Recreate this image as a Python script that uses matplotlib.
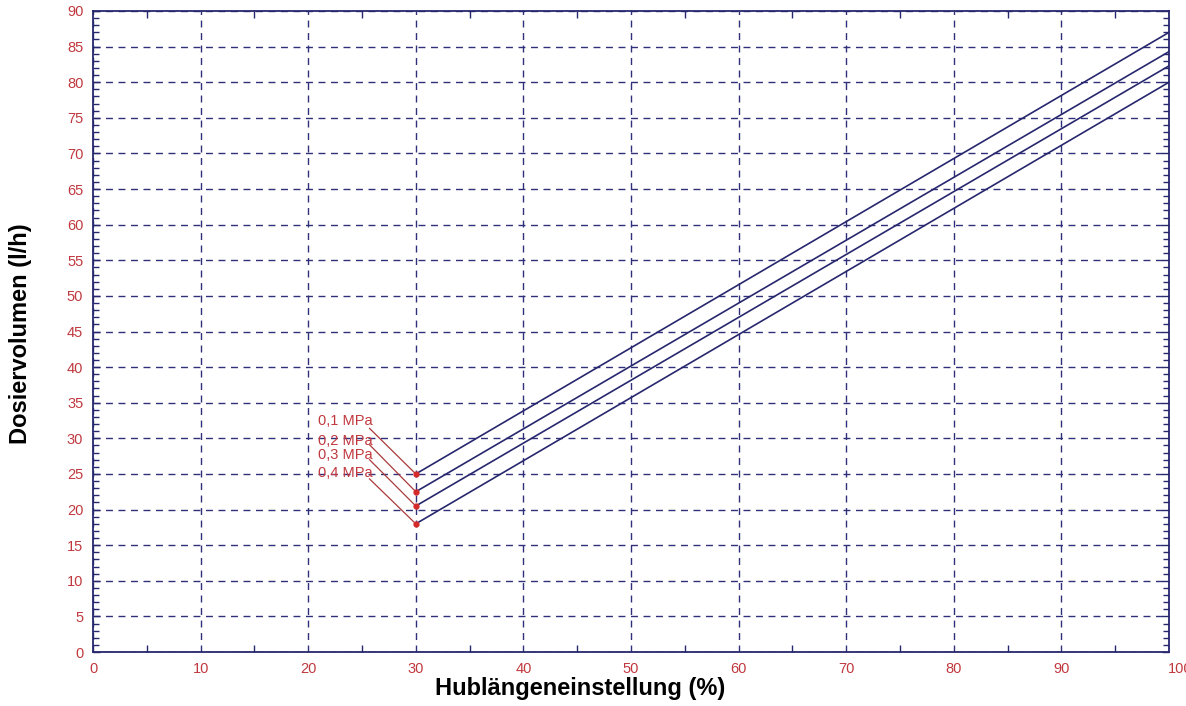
import matplotlib
matplotlib.use("Agg")
import matplotlib.pyplot as plt
from matplotlib.ticker import MultipleLocator, FuncFormatter
from matplotlib.transforms import blended_transform_factory, ScaledTranslation

plt.rcParams['font.family'] = ['Liberation Sans', 'DejaVu Sans']

# Dosing volume vs. stroke length for four back pressures
stroke = [30, 100]
pressures = ["0,1 MPa", "0,2 MPa", "0,3 MPa", "0,4 MPa"]
volume = {
    "0,1 MPa": [25.0, 87.0],
    "0,2 MPa": [22.5, 84.3],
    "0,3 MPa": [20.5, 82.3],
    "0,4 MPa": [18.0, 80.0],
}
label_pos = {
    "0,1 MPa": (20.9, 32.4),
    "0,2 MPa": (20.9, 29.6),
    "0,3 MPa": (20.9, 27.7),
    "0,4 MPa": (20.9, 25.1),
}
leader_start = {
    "0,1 MPa": (25.7, 31.4),
    "0,2 MPa": (25.7, 29.1),
    "0,3 MPa": (25.7, 27.0),
    "0,4 MPa": (25.7, 24.3),
}

navy = '#27276e'
grid_c = '#30307a'
red = '#c0393f'

fig = plt.figure(figsize=(11.86, 7.06), dpi=100)
ax = fig.add_axes([93/1186, 1 - 652/706, (1169 - 93)/1186, (652 - 11)/706])

ax.set_xlim(0, 100)
ax.set_ylim(0, 90)
ax.xaxis.set_major_locator(MultipleLocator(10))
ax.xaxis.set_minor_locator(MultipleLocator(5))
ax.yaxis.set_major_locator(MultipleLocator(5))
ax.yaxis.set_minor_locator(MultipleLocator(1))
# the last x label is placed separately, left-aligned at the axis end
ax.xaxis.set_major_formatter(FuncFormatter(lambda v, p: '' if v >= 100 else f'{v:g}'))

ax.grid(True, which='major', color=grid_c, linestyle=(0, (5, 4)), linewidth=1.0)
ax.set_axisbelow(True)

for s in ax.spines.values():
    s.set_color(navy)
    s.set_linewidth(1.3)

ax.tick_params(which='both', direction='in', colors=navy, top=True, right=True,
               labelcolor=red, labelsize=10.5)
ax.tick_params(which='minor', length=4, width=1)
ax.tick_params(axis='x', which='major', length=0, pad=7)
ax.tick_params(axis='x', which='minor', length=5)
ax.tick_params(axis='y', which='major', length=5, width=1, pad=7)

trans = blended_transform_factory(ax.transData, ax.transAxes) + \
    ScaledTranslation(-1/100, -10/100, fig.dpi_scale_trans)
ax.text(100, 0, '100', transform=trans, color=red, fontsize=10.5,
        ha='left', va='top')

for p in pressures:
    ax.plot(stroke, volume[p], color=navy, linewidth=1.2, zorder=3)
    x0, y0 = stroke[0], volume[p][0]
    lx, ly = leader_start[p]
    ax.plot([lx, x0], [ly, y0], color='#a83a3a', linewidth=0.9, zorder=4)
    ax.plot([x0], [y0], 'o', color='#d42a2a', markersize=3.5, zorder=5)
    tx, ty = label_pos[p]
    ax.text(tx, ty, p, color=red, fontsize=10.5, ha='left', va='center', zorder=5)

ax.set_xlabel('Hublängeneinstellung (%)', fontsize=17, fontweight='bold')
ax.set_ylabel('Dosiervolumen (l/h)', fontsize=17, fontweight='bold')
ax.xaxis.set_label_coords((580 - 93) / (1169 - 93), -(688 - 652) / (652 - 11))
ax.yaxis.set_label_coords(-(93 - 21) / (1169 - 93), (652 - 334) / (652 - 11))
ax.xaxis.label.set_va('center')
ax.yaxis.label.set_va('center')

fig.savefig('out.png', dpi=100)
